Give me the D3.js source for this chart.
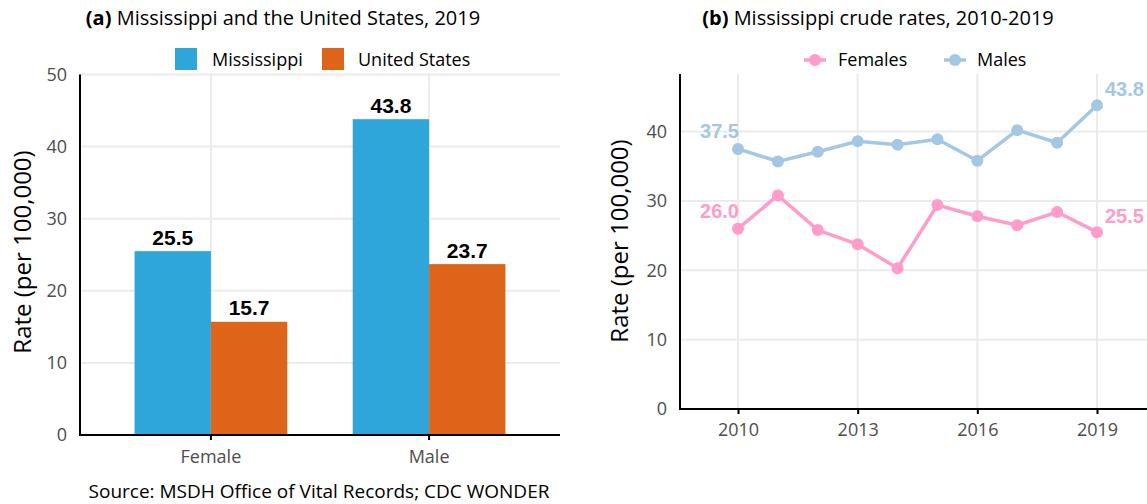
<!DOCTYPE html>
<html><head><meta charset="utf-8">
<script src="https://cdn.jsdelivr.net/npm/d3@7"></script>
<style>
body{margin:0;background:#fff;}
text{font-family:"Open Sans","Noto Sans",sans-serif;}
</style></head>
<body>
<svg id="c" width="1147" height="504"></svg>
<script>
// ---- data ----
const barCategories = ["Female", "Male"];
const barSeries = ["Mississippi", "United States"];
const mississippiRates = [25.5, 43.8];
const usRates = [15.7, 23.7];
const barYTicks = [0, 10, 20, 30, 40, 50];

const years = [2010, 2011, 2012, 2013, 2014, 2015, 2016, 2017, 2018, 2019];
const femaleRates = [26.0, 30.8, 25.8, 23.75, 20.3, 29.4, 27.8, 26.5, 28.4, 25.5];
const maleRates = [37.5, 35.7, 37.1, 38.6, 38.1, 38.9, 35.8, 40.2, 38.4, 43.8];
const lineSeries = ["Females", "Males"];
const lineXTicks = [2010, 2013, 2016, 2019];
const lineYTicks = [0, 10, 20, 30, 40];

const colBar = {"Mississippi": "#2ea6d9", "United States": "#dd6419"};
const colLine = {"Females": "#ff9cc9", "Males": "#a4c7e4"};
const grid = "#ebebeb";
const labelFont = "'Liberation Sans', Arial, sans-serif";

const svg = d3.select("#c");

// ================= Panel (a) =================
const yL = d3.scaleLinear().domain([0, 50]).range([435, 74.5]);
const xL = d3.scaleBand().domain(barCategories).range([80, 560]).paddingInner(0.3).paddingOuter(0.25);
const xSub = d3.scaleBand().domain(barSeries).range([0, xL.bandwidth()]);
const barData = barCategories.map((c, i) => ({cat: c, vals: [
  {s: "Mississippi", v: mississippiRates[i]},
  {s: "United States", v: usRates[i]}]}));

const gA = svg.append("g");
gA.selectAll(".hg").data(barYTicks).join("line")
  .attr("x1", 80).attr("x2", 560).attr("y1", d => yL(d)).attr("y2", d => yL(d))
  .attr("stroke", grid).attr("stroke-width", 2);
gA.selectAll(".vg").data(barCategories).join("line")
  .attr("x1", d => xL(d) + xL.bandwidth() / 2).attr("x2", d => xL(d) + xL.bandwidth() / 2)
  .attr("y1", 74.5).attr("y2", 435).attr("stroke", grid).attr("stroke-width", 2);
const grp = gA.selectAll(".grp").data(barData).join("g")
  .attr("transform", d => `translate(${xL(d.cat)},0)`);
grp.selectAll("rect").data(d => d.vals).join("rect")
  .attr("x", d => xSub(d.s)).attr("width", xSub.bandwidth())
  .attr("y", d => yL(d.v)).attr("height", d => yL(0) - yL(d.v))
  .attr("fill", d => colBar[d.s]);
grp.selectAll("text").data(d => d.vals).join("text")
  .attr("x", d => xSub(d.s) + xSub.bandwidth() / 2)
  .attr("y", d => yL(d.v) - 6.5)
  .attr("text-anchor", "middle")
  .style("font-family", labelFont)
  .style("font-weight", "bold").style("font-size", "21px").attr("fill", "#000")
  .text(d => d.v.toFixed(1));
const axYL = gA.append("g").attr("transform", "translate(80,0)")
  .call(d3.axisLeft(yL).tickValues(barYTicks).tickSize(0).tickPadding(13));
axYL.select(".domain").remove();
axYL.selectAll("text").style("font-size", "18px").attr("fill", "#4d4d4d");
const axXL = gA.append("g").attr("transform", "translate(0,435)")
  .call(d3.axisBottom(xL).tickSize(5).tickPadding(10));
axXL.select(".domain").remove();
axXL.selectAll("line").attr("stroke", "#000").attr("stroke-width", 2);
axXL.selectAll("text").style("font-size", "18px").attr("fill", "#4d4d4d");
gA.append("line").attr("x1", 80).attr("x2", 80).attr("y1", 74.5).attr("y2", 436)
  .attr("stroke", "#000").attr("stroke-width", 2);
gA.append("line").attr("x1", 79).attr("x2", 560).attr("y1", 435).attr("y2", 435)
  .attr("stroke", "#000").attr("stroke-width", 2);
gA.append("text").attr("transform", "translate(31,252) rotate(-90)")
  .attr("text-anchor", "middle").style("font-size", "24px").attr("fill", "#000")
  .text("Rate (per 100,000)");
const tA = gA.append("text").attr("x", 283).attr("y", 25).attr("text-anchor", "middle")
  .style("font-size", "20px").attr("fill", "#000");
tA.append("tspan").style("font-weight", "bold").text("(a)");
tA.append("tspan").text(" Mississippi and the United States, 2019");
const legA = [{s: "Mississippi", x: 175, tx: 212}, {s: "United States", x: 322, tx: 358}];
const lgA = gA.selectAll(".lga").data(legA).join("g");
lgA.append("rect").attr("x", d => d.x).attr("y", 48).attr("width", 22).attr("height", 22)
  .attr("fill", d => colBar[d.s]);
lgA.append("text").attr("x", d => d.tx).attr("y", 66).style("font-size", "18px")
  .attr("fill", "#000").text(d => d.s);
gA.append("text").attr("x", 319).attr("y", 498).attr("text-anchor", "middle")
  .style("font-size", "19px").attr("fill", "#000")
  .text("Source: MSDH Office of Vital Records; CDC WONDER");

// ================= Panel (b) =================
const xR = d3.scaleLinear().domain([2010, 2019]).range([738, 1097]);
const yR = d3.scaleLinear().domain([0, 48.3]).range([409, 74]);
const gB = svg.append("g");
gB.selectAll(".hg").data(lineYTicks).join("line")
  .attr("x1", 680).attr("x2", 1147).attr("y1", d => yR(d)).attr("y2", d => yR(d))
  .attr("stroke", grid).attr("stroke-width", 2);
gB.selectAll(".vg").data(lineXTicks).join("line")
  .attr("x1", d => xR(d)).attr("x2", d => xR(d)).attr("y1", 74).attr("y2", 409)
  .attr("stroke", grid).attr("stroke-width", 2);

const lineData = [
  {s: "Males", vals: maleRates},
  {s: "Females", vals: femaleRates}];
const line = d3.line().x((d, i) => xR(years[i])).y(d => yR(d));
const ser = gB.selectAll(".ser").data(lineData).join("g");
ser.append("path").attr("d", d => line(d.vals)).attr("fill", "none")
  .attr("stroke", d => colLine[d.s]).attr("stroke-width", 3.5);
ser.each(function(d) {
  d3.select(this).selectAll("circle").data(d.vals).join("circle")
    .attr("cx", (v, i) => xR(years[i])).attr("cy", v => yR(v)).attr("r", 6)
    .attr("fill", colLine[d.s]);
});
ser.append("text").attr("x", d => xR(years[0]) + 1).attr("y", d => yR(d.vals[0]) - 11)
  .attr("text-anchor", "end")
  .style("font-family", labelFont)
  .style("font-weight", "bold").style("font-size", "20px")
  .attr("fill", d => colLine[d.s]).text(d => d.vals[0].toFixed(1));
ser.append("text").attr("x", d => xR(years[years.length - 1]) + 8)
  .attr("y", d => yR(d.vals[d.vals.length - 1]) - 9)
  .attr("text-anchor", "start")
  .style("font-family", labelFont)
  .style("font-weight", "bold").style("font-size", "20px")
  .attr("fill", d => colLine[d.s]).text(d => d.vals[d.vals.length - 1].toFixed(1));
const axYR = gB.append("g").attr("transform", "translate(680,0)")
  .call(d3.axisLeft(yR).tickValues(lineYTicks).tickSize(0).tickPadding(13));
axYR.select(".domain").remove();
axYR.selectAll("text").style("font-size", "18px").attr("fill", "#4d4d4d");
const axXR = gB.append("g").attr("transform", "translate(0,409)")
  .call(d3.axisBottom(xR).tickValues(lineXTicks).tickFormat(d3.format("d")).tickSize(5).tickPadding(9));
axXR.select(".domain").remove();
axXR.selectAll("line").attr("stroke", "#000").attr("stroke-width", 2);
axXR.selectAll("text").style("font-size", "18px").attr("fill", "#4d4d4d");
gB.append("line").attr("x1", 680).attr("x2", 680).attr("y1", 74).attr("y2", 410)
  .attr("stroke", "#000").attr("stroke-width", 2);
gB.append("line").attr("x1", 679).attr("x2", 1147).attr("y1", 409).attr("y2", 409)
  .attr("stroke", "#000").attr("stroke-width", 2);
gB.append("text").attr("transform", "translate(628,241) rotate(-90)")
  .attr("text-anchor", "middle").style("font-size", "24px").attr("fill", "#000")
  .text("Rate (per 100,000)");
const tB = gB.append("text").attr("x", 878).attr("y", 25).attr("text-anchor", "middle")
  .style("font-size", "20px").attr("fill", "#000");
tB.append("tspan").style("font-weight", "bold").text("(b)");
tB.append("tspan").text(" Mississippi crude rates, 2010-2019");
const legB = [{s: "Females", x: 815, tx: 838}, {s: "Males", x: 955, tx: 977}];
const lgB = gB.selectAll(".lgb").data(legB).join("g");
lgB.append("line").attr("x1", d => d.x - 11).attr("x2", d => d.x + 11).attr("y1", 60).attr("y2", 60)
  .attr("stroke", d => colLine[d.s]).attr("stroke-width", 3.5);
lgB.append("circle").attr("cx", d => d.x).attr("cy", 60).attr("r", 6).attr("fill", d => colLine[d.s]);
lgB.append("text").attr("x", d => d.tx).attr("y", 66).style("font-size", "18px")
  .attr("fill", "#000").text(d => d.s);
</script>
</body></html>
